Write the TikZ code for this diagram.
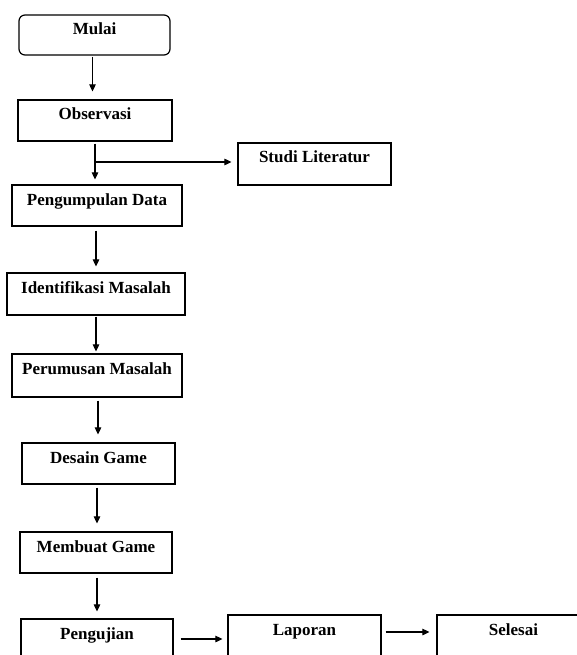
\documentclass[tikz,border=0pt]{standalone}
\usepackage{fontspec}
\setmainfont{Liberation Serif}
\usetikzlibrary{arrows.meta}
\begin{document}
\begin{tikzpicture}[x=1pt,y=-1pt,
  box/.style={draw, line width=1.2pt, inner sep=0pt, text height=20pt,
    font=\fontsize{17}{20}\selectfont\bfseries, anchor=center},
  arr/.style={draw, line width=1.1pt, -{Triangle[length=7pt,width=6.5pt]}}]
\useasboundingbox (0,0) rectangle (577,655);
\clip (0,0) rectangle (577,655);
\fill[white] (0,0) rectangle (577,655);
\node[box, rounded corners=6pt, minimum width=151pt, minimum height=40pt, text depth=20pt] (mulai) at (94.5,35) {Mulai};
\node[box, minimum width=154pt, minimum height=41pt, text depth=21pt] (obs) at (95,120.5) {Observasi};
\node[box, minimum width=153pt, minimum height=42pt, text depth=22pt] (studi) at (314.5,164) {Studi Literatur};
\node[box, minimum width=170pt, minimum height=41pt, text depth=21pt] (kumpul) at (97,205.5) {Pengumpulan Data};
\node[box, minimum width=178pt, minimum height=42pt, text depth=22pt] (ident) at (96,294) {Identifikasi Masalah};
\node[box, minimum width=170pt, minimum height=43pt, text depth=23pt] (rumus) at (97,375.5) {Perumusan Masalah};
\node[box, minimum width=153pt, minimum height=41pt, text depth=21pt] (desain) at (98.5,463.5) {Desain Game};
\node[box, minimum width=152pt, minimum height=41pt, text depth=21pt] (buat) at (96,552.5) {Membuat Game};
\node[box, minimum width=152pt, minimum height=42pt, text depth=22pt] (uji) at (97,640) {Pengujian};
\node[box, minimum width=153pt, minimum height=42pt, text depth=22pt] (lapor) at (304.5,636) {Laporan};
\node[box, minimum width=153pt, minimum height=42pt, text depth=22pt] (selesai) at (513.5,636) {Selesai};
\draw[arr, shorten <=1pt, shorten >=8pt] ([xshift=-2pt]mulai.south) -- ([xshift=-2pt]mulai.south |- obs.north);
\draw[arr, shorten <=2pt, shorten >=5pt] (obs.south) -- (obs.south |- kumpul.north);
\coordinate (br) at ([yshift=2pt]obs.south |- studi.west);
\draw[arr, shorten >=6pt] (br) -- (br -| studi.west);
\draw[arr, shorten <=4pt, shorten >=6pt] ([xshift=-1pt]kumpul.south) -- ([xshift=-1pt]kumpul.south |- ident.north);
\draw[arr, shorten <=1pt, shorten >=2pt] (ident.south) -- (ident.south |- rumus.north);
\draw[arr, shorten <=3pt, shorten >=8pt] ([xshift=1pt]rumus.south) -- ([xshift=1pt]rumus.south |- desain.north);
\draw[arr, shorten <=3pt, shorten >=8pt] ([xshift=-1.5pt]desain.south) -- ([xshift=-1.5pt]desain.south |- buat.north);
\draw[arr, shorten <=4pt, shorten >=7pt] ([xshift=1pt]buat.south) -- ([xshift=1pt]buat.south |- uji.north);
\draw[arr, shorten <=7pt, shorten >=5pt] ([yshift=1pt]uji.east) -- ([yshift=1pt]uji.east -| lapor.west);
\draw[arr, shorten <=4pt, shorten >=7pt] ([yshift=4pt]lapor.east) -- ([yshift=4pt]selesai.west);
\end{tikzpicture}
\end{document}
